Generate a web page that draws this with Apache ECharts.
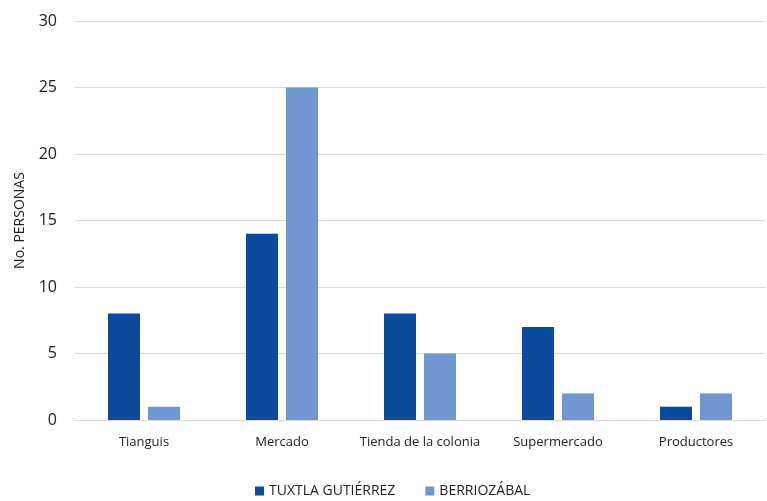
<!DOCTYPE html>
<html>
<head>
<meta charset="utf-8">
<script src="https://cdn.jsdelivr.net/npm/echarts@6/dist/echarts.min.js"></script>
<style>
  html, body { margin: 0; padding: 0; background: #fff; }
  #chart { width: 767px; height: 501px; }
</style>
</head>
<body>
<div id="chart"></div>
<script>
// Where people buy: counts per place, by municipality
const categories = ['Tianguis', 'Mercado', 'Tienda de la colonia', 'Supermercado', 'Productores'];
const tuxtla = [8, 14, 8, 7, 1];
const berriozabal = [1, 25, 5, 2, 2];
const seriesNames = ['TUXTLA GUTIÉRREZ', 'BERRIOZÁBAL'];

const font = '"Open Sans", "Noto Sans", sans-serif';
const chart = echarts.init(document.getElementById('chart'));
chart.setOption({
  animation: false,
  textStyle: { fontFamily: font },
  grid: { left: 75, right: 2, top: 21, bottom: 81 },
  legend: {
    top: 484,
    left: 255,
    padding: 0,
    icon: 'rect',
    itemWidth: 9,
    itemHeight: 9,
    itemGap: 30,
    textStyle: { fontSize: 14, color: '#222', fontFamily: font },
    data: seriesNames
  },
  xAxis: {
    type: 'category',
    data: categories,
    axisLine: { lineStyle: { color: '#d9d9d9' } },
    axisTick: { show: false },
    axisLabel: { fontSize: 13, color: '#222', margin: 16, interval: 0 }
  },
  yAxis: {
    type: 'value',
    min: 0,
    max: 30,
    interval: 5,
    name: 'No. PERSONAS',
    nameLocation: 'middle',
    nameGap: 48,
    nameTextStyle: { fontSize: 14, color: '#222' },
    axisLabel: { fontSize: 16, color: '#222', margin: 18 },
    splitLine: { lineStyle: { color: '#d9d9d9' } }
  },
  series: [
    {
      name: seriesNames[0],
      type: 'bar',
      data: tuxtla,
      barWidth: 32,
      barGap: '25%',
      itemStyle: { color: '#0c4a9c' }
    },
    {
      name: seriesNames[1],
      type: 'bar',
      data: berriozabal,
      barWidth: 32,
      itemStyle: { color: '#7097d2' }
    }
  ]
});
</script>
</body>
</html>
